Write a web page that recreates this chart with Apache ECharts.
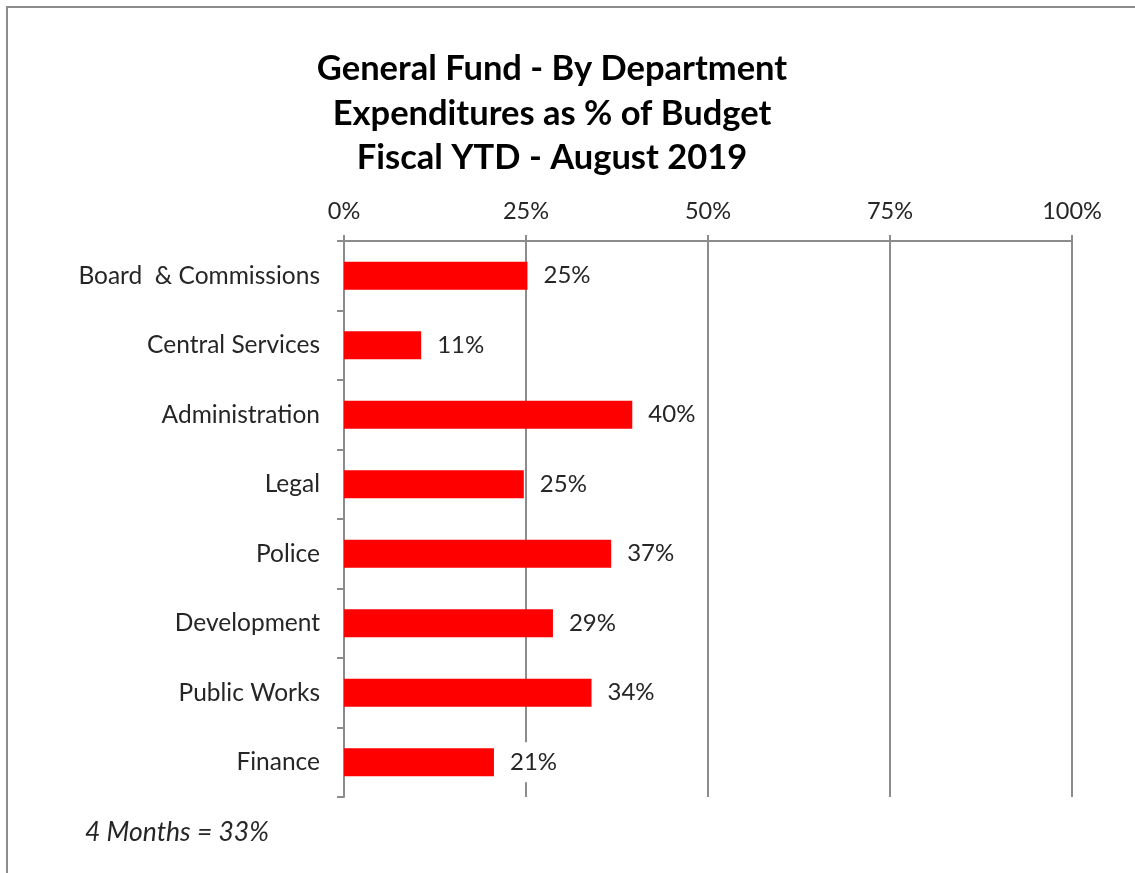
<!DOCTYPE html>
<html>
<head>
<meta charset="utf-8">
<title>General Fund - By Department</title>
<script src="https://cdn.jsdelivr.net/npm/echarts@6/dist/echarts.min.js"></script>
<style>
  html, body { margin: 0; padding: 0; background: #fff; }
  #chart { width: 1135px; height: 873px; }
</style>
</head>
<body>
<div id="chart"></div>
<script>
// Departments, top to bottom
const departments = [
  'Board  & Commissions',
  'Central Services',
  'Administration',
  'Legal',
  'Police',
  'Development',
  'Public Works',
  'Finance'
];
// Year-to-date expenditures as % of budget
const pctOfBudget = [25.2, 10.6, 39.6, 24.7, 36.7, 28.7, 34.0, 20.6];
// Axis ticks (percent)
const axisMin = 0;
const axisMax = 100;
const axisStep = 25;

const titleLines = [
  'General Fund - By Department',
  'Expenditures as % of Budget',
  'Fiscal YTD - August 2019'
];
const footnote = '4 Months = 33%';

const FONT = 'Lato, "Open Sans", "Liberation Sans", sans-serif';
const GRAY = '#8c8c8c';
const TEXT = '#262626';

const chart = echarts.init(document.getElementById('chart'), null, { renderer: 'canvas' });

const titleGraphics = titleLines.map((t, i) => ({
  type: 'text',
  x: 552,
  y: 69 + i * 44.5,
  style: {
    text: t,
    fill: '#000',
    font: 'bold 34.5px ' + FONT,
    textAlign: 'center',
    textVerticalAlign: 'middle'
  }
}));

chart.setOption({
  backgroundColor: '#fff',
  animation: false,
  grid: { left: 344, right: 63, top: 241, bottom: 76, containLabel: false },
  xAxis: {
    type: 'value',
    position: 'top',
    min: axisMin,
    max: axisMax,
    interval: axisStep,
    axisLine: { show: true, lineStyle: { color: GRAY, width: 2 } },
    axisTick: { show: true, inside: false, length: 6, lineStyle: { color: GRAY, width: 2 } },
    splitLine: { show: true, lineStyle: { color: GRAY, width: 2 } },
    axisLabel: {
      formatter: '{value}%',
      color: TEXT,
      fontFamily: FONT,
      fontSize: 23.5,
      margin: 18
    }
  },
  yAxis: {
    type: 'category',
    inverse: true,
    data: departments,
    axisLine: { show: true, lineStyle: { color: GRAY, width: 2 } },
    axisTick: { show: true, inside: false, length: 7, lineStyle: { color: GRAY, width: 2 } },
    axisLabel: {
      color: TEXT,
      fontFamily: FONT,
      fontSize: 24.5,
      margin: 24
    }
  },
  series: [{
    type: 'bar',
    data: pctOfBudget,
    barWidth: 28,
    itemStyle: { color: '#ff0000' },
    label: {
      show: true,
      position: 'right',
      distance: 10,
      formatter: p => Math.round(p.value) + '%',
      color: TEXT,
      fontFamily: FONT,
      fontSize: 24,
      backgroundColor: '#fff',
      padding: [8, 6]
    }
  }],
  graphic: [
    {
      type: 'rect',
      shape: { x: 7, y: 7, width: 1400, height: 1100 },
      style: { fill: 'none', stroke: GRAY, lineWidth: 2 },
      silent: true
    },
    ...titleGraphics,
    {
      type: 'text',
      x: 85,
      y: 832,
      style: {
        text: footnote,
        fill: TEXT,
        font: 'italic 26.5px ' + FONT,
        textAlign: 'left',
        textVerticalAlign: 'middle'
      }
    }
  ]
});
</script>
</body>
</html>
